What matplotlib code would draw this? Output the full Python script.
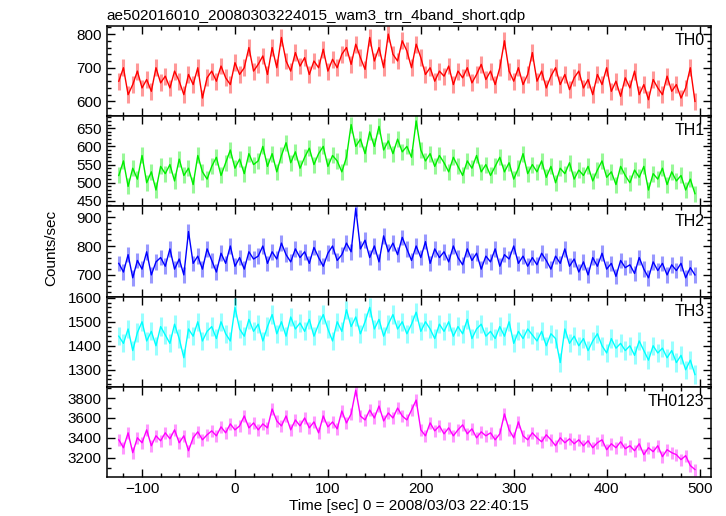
import numpy as np
import matplotlib
matplotlib.use("Agg")
import matplotlib.pyplot as plt
from matplotlib.ticker import MultipleLocator

plt.rcParams['font.family'] = ['Liberation Sans', 'DejaVu Sans']

# time bins (sec from 2008/03/03 22:40:15), one value every 5 s
time = np.arange(-125, 500, 5)

th0 = [660, 700, 620, 650, 690, 640, 665, 630, 700, 655,
       675, 640, 690, 660, 620, 680, 650, 700, 610, 670,
       690, 660, 705, 670, 650, 715, 680, 700, 760, 690,
       710, 735, 680, 760, 700, 790, 720, 690, 745, 705,
       730, 680, 720, 700, 755, 690, 725, 700, 740, 760,
       710, 770, 730, 695, 790, 720, 760, 700, 800, 740,
       720, 780, 750, 700, 770, 730, 680, 700, 660, 690,
       675, 705, 650, 690, 670, 700, 655, 680, 710, 665,
       690, 650, 700, 780, 690, 660, 700, 650, 680, 745,
       660, 690, 640, 675, 700, 650, 680, 635, 670, 690,
       640, 665, 620, 680, 650, 700, 630, 660, 615, 670,
       640, 690, 620, 650, 605, 665, 640, 620, 675, 630,
       650, 610, 640, 700, 600]

th1 = [520, 560, 490, 540, 510, 575, 500, 530, 480, 545,
       525, 550, 505, 565, 520, 540, 495, 575, 530, 510,
       545, 570, 520, 555, 590, 540, 565, 525, 580, 550,
       560, 600, 545, 580, 530, 575, 610, 555, 585, 540,
       570, 595, 550, 580, 600, 545, 575, 560, 530, 570,
       660, 600, 620, 580, 640, 600, 655, 590, 615, 580,
       620, 585, 600, 570, 670, 590, 560, 580, 545, 575,
       555, 530, 570, 545, 520, 560, 540, 575, 530, 550,
       520, 545, 570, 530, 555, 510, 540, 580, 525, 550,
       530, 560, 515, 545, 500, 540, 525, 555, 510, 535,
       520, 545, 505, 535, 560, 515, 530, 495, 545, 520,
       500, 535, 515, 545, 480, 525, 510, 540, 495, 530,
       505, 520, 480, 510, 470]

th2 = [740, 710, 770, 690, 750, 720, 780, 700, 745, 760,
       730, 790, 720, 755, 700, 850, 740, 765, 720, 790,
       750, 710, 775, 740, 800, 730, 760, 720, 780, 755,
       765, 800, 740, 780, 755, 810, 770, 745, 790, 760,
       780, 740, 795, 760, 730, 775, 800, 750, 770, 810,
       780, 930, 790, 820, 760, 800, 745, 835, 780, 810,
       770, 830, 790, 750, 800, 760, 815, 740, 790, 760,
       780, 745, 800, 760, 735, 790, 750, 775, 720, 765,
       745, 790, 730, 770, 755, 800, 740, 765, 730, 760,
       735, 775, 750, 720, 765, 740, 790, 730, 755, 710,
       745, 700, 760, 730, 775, 720, 740, 695, 750, 725,
       735, 705, 760, 720, 690, 745, 715, 740, 700, 735,
       715, 740, 690, 725, 700]

th3 = [1440, 1410, 1470, 1380, 1455, 1500, 1420, 1460, 1400, 1480,
       1445, 1410, 1490, 1430, 1350, 1470, 1440, 1500, 1420, 1460,
       1480, 1430, 1500, 1450, 1420, 1560, 1470, 1440, 1510, 1460,
       1490, 1420, 1480, 1530, 1450, 1500, 1440, 1520, 1470, 1495,
       1460, 1510, 1440, 1490, 1530, 1470, 1420, 1500, 1460, 1550,
       1480, 1520, 1450, 1500, 1560, 1470, 1510, 1440, 1490, 1530,
       1470, 1500, 1450, 1490, 1540, 1460, 1500, 1470, 1430, 1490,
       1460, 1500, 1440, 1480, 1450, 1510, 1430, 1470, 1490, 1440,
       1460, 1430, 1480, 1440, 1500, 1410, 1460, 1430, 1470, 1445,
       1420, 1460, 1400, 1450, 1430, 1330, 1470, 1410, 1440, 1400,
       1430, 1380, 1420, 1450, 1400, 1370, 1430, 1390, 1410, 1380,
       1400, 1360, 1420, 1380, 1340, 1400, 1370, 1390, 1350, 1380,
       1330, 1360, 1300, 1340, 1280]

th0123 = [3380, 3300, 3450, 3250, 3400, 3350, 3480, 3320, 3420, 3370,
          3450, 3390, 3480, 3350, 3420, 3270, 3400, 3460, 3380, 3430,
          3470, 3420, 3510, 3450, 3540, 3480, 3520, 3620, 3500, 3550,
          3480, 3540, 3500, 3690, 3570, 3520, 3620, 3480, 3580, 3520,
          3600, 3500, 3560, 3450, 3620, 3510, 3560, 3490, 3670, 3550,
          3640, 3880, 3620, 3580, 3680, 3600, 3720, 3570, 3650, 3600,
          3700, 3620, 3580, 3680, 3780, 3480, 3420, 3550, 3470, 3520,
          3440, 3500, 3420, 3480, 3530, 3440, 3490, 3400, 3460, 3420,
          3450, 3380, 3440, 3640, 3480, 3400, 3560, 3420, 3380, 3450,
          3400, 3360, 3430, 3380, 3320, 3400, 3350, 3390, 3340, 3380,
          3320, 3370, 3300, 3350, 3380, 3280, 3340, 3300, 3360, 3290,
          3320, 3270, 3340, 3230, 3300, 3260, 3320, 3210, 3280, 3250,
          3230, 3180, 3220, 3120, 3080]

names = ['TH0', 'TH1', 'TH2', 'TH3', 'TH0123']
series = [th0, th1, th2, th3, th0123]
errors = [25, 22, 27, 38, 60]
colors = ['#ff0000', '#00ee00', '#0000ff', '#00ffff', '#ff00ff']
ylims = [(556, 824), (435, 683), (625, 937), (1229, 1605), (3005, 3914)]
ymajor = [100, 50, 100, 100, 200]
yminor = [20, 10, 20, 20, 100]

fig, axes = plt.subplots(5, 1, sharex=True, figsize=(7.26, 5.16), dpi=100)
fig.subplots_adjust(left=0.147, right=0.979, top=0.9496, bottom=0.0756, hspace=0)

for i, ax in enumerate(axes):
    y = np.array(series[i])
    # light error bars under the connecting line, like the qdp plot
    ax.errorbar(time, y, yerr=errors[i], fmt='none', ecolor=colors[i],
                alpha=0.4, elinewidth=2.2)
    ax.plot(time, y, color=colors[i], lw=1.0)
    ax.set_xlim(-138, 512)
    ax.set_ylim(*ylims[i])
    ax.xaxis.set_major_locator(MultipleLocator(100))
    ax.xaxis.set_minor_locator(MultipleLocator(20))
    ax.yaxis.set_major_locator(MultipleLocator(ymajor[i]))
    ax.yaxis.set_minor_locator(MultipleLocator(yminor[i]))
    ax.tick_params(which='both', direction='in', top=True, right=True,
                   labelsize=11, width=1.0)
    ax.tick_params(which='major', length=6)
    ax.tick_params(which='minor', length=3)
    for s in ax.spines.values():
        s.set_linewidth(1.1)
    ax.text(0.99, 0.92, names[i], transform=ax.transAxes, ha='right',
            va='top', fontsize=11.5)

axes[0].set_title('ae502016010_20080303224015_wam3_trn_4band_short.qdp',
                  loc='left', fontsize=11, pad=4)
axes[-1].set_xlabel('Time [sec] 0 = 2008/03/03 22:40:15', fontsize=11, labelpad=2)
fig.text(0.07, 0.52, 'Counts/sec', rotation=90, ha='center', va='center', fontsize=11)

plt.savefig('out.png', dpi=100)
